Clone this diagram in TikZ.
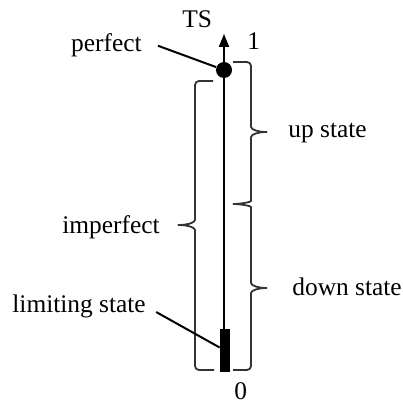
\documentclass[tikz,border=0pt]{standalone}
\usepackage{fontspec}
\setmainfont{Liberation Serif}
\usetikzlibrary{arrows.meta,positioning}

\begin{document}
\begin{tikzpicture}[x=0.5pt,y=-0.5pt,font=\fontsize{12.7}{15}\selectfont,
  txt/.style={inner sep=0pt},
  lead/.style={line width=1pt},
  bracket/.style={line width=0.9pt,draw=black!80,rounded corners=2pt,line join=round}]
\useasboundingbox (0,0) rectangle (402,405);
% scale axis
\coordinate (bot) at (224,372);
\coordinate (top) at (224,34);
\draw[line width=1pt,-{Triangle[length=6.5pt,width=5pt]}] (bot) -- (top);
\node[circle,fill,inner sep=0pt,minimum size=8pt] (dot) at (224,70) {};
\node[fill,inner sep=0pt,minimum width=5pt,minimum height=21.5pt] (bar) at (225,350.5) {};
\node[txt,anchor=base west] (ts) at (182,28) {TS};
\node[txt,anchor=base west] (one) at (247,50) {1};
\node[txt,anchor=base west] (zero) at (234,399) {0};
% left brace
\coordinate (imptip) at (176,225);
\draw[bracket] (213,81) -- (195,81) -- (195,216)
  .. controls (195,223) and (186,225) .. (imptip)
  .. controls (186,225) and (195,227) .. (195,234) -- (195,370) -- (214,370);
% right braces
\coordinate (uptip) at (269,132);
\coordinate (downtip) at (269,288);
\draw[bracket] (233,62) -- (251,62) -- (251,123)
  .. controls (251,130) and (260,132) .. (uptip)
  .. controls (260,132) and (251,134) .. (251,141) -- (251,197)
  .. controls (251,202) and (241,204) .. (233,204);
\draw[bracket] (233,204) .. controls (241,204) and (251,206) .. (251,211) -- (251,279)
  .. controls (251,286) and (260,288) .. (downtip)
  .. controls (260,288) and (251,290) .. (251,297) -- (251,370) -- (233,370);
% labels
\node[txt,anchor=base east] (perfect) at (142,52) {perfect};
\node[txt,anchor=base east] (imperfect) at (160,233) {imperfect};
\node[txt,anchor=base west] (limit) at (12,312) {limiting state};
\node[txt,anchor=base west] (up) at (288,138) {up state};
\node[txt,anchor=base west] (down) at (292,295) {down state};
\draw[lead] ([xshift=8pt]perfect.east) -- (dot);
\draw[lead] ([xshift=5pt]limit.base east) -- (bar);
\end{tikzpicture}
\end{document}
